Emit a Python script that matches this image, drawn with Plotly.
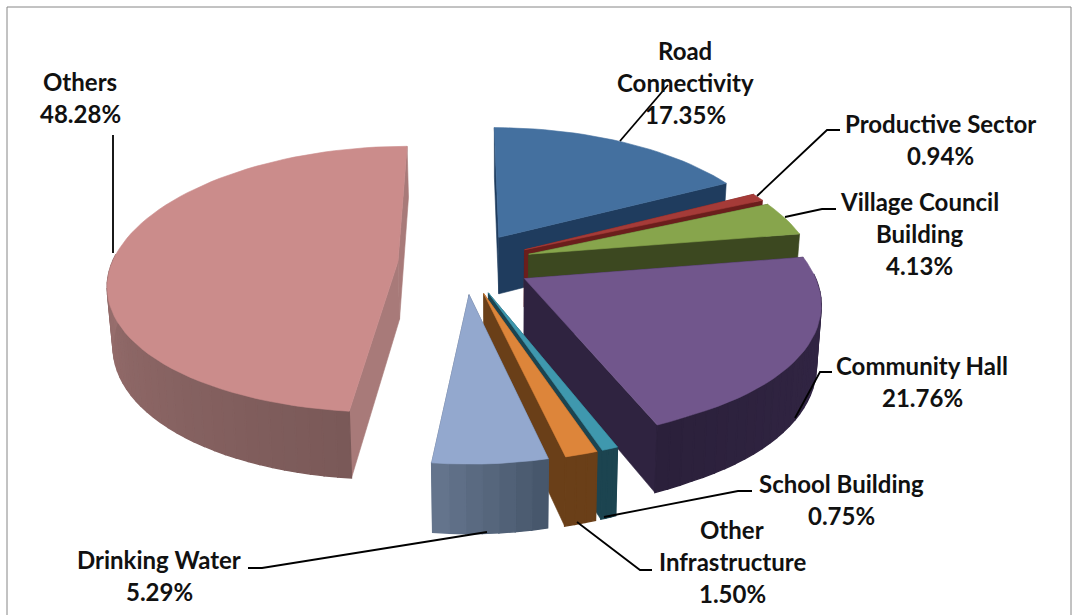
import math
import plotly.graph_objects as go

# ---- data ----
categories = ["Road Connectivity", "Productive Sector", "Village Council Building", "Community Hall",
              "School Building", "Other Infrastructure", "Drinking Water", "Others"]
shares = [17.35, 0.94, 4.13, 21.76, 0.75, 1.50, 5.29, 48.28]

# ---- style ----
top_colors = ["#44709F", "#A53B38", "#87A54C", "#71568C", "#3F98AE", "#DD853A", "#93A8CE", "#CB8C8B"]
wall_colors = ["#1F3C5E", "#6B1E1C", "#3C4820", "#2F2340", "#1C4450", "#6A3F18", "#4F6078", "#A87A79"]
arc_light = ["#2A4A70", "#6B1E1C", "#3C4820", "#352848", "#1C4450", "#6A3F18", "#64748C", "#B88685"]
arc_dark = ["#1F3C5E", "#6B1E1C", "#3C4820", "#2B203B", "#1C4450", "#6A3F18", "#47576C", "#7A5958"]
paint_order = [7, 0, 1, 2, 3, 4, 5, 6]

CX, CY, RX, RY = 465, 263, 286, 131
PX, PY, PULL, DEPTH = 0.157, 0.135, 0.235, 58


def project(u, v, down=False):
    x = CX + RX * u / (1 + PX * v)
    y = CY - RY * v / (1 + PY * v) + 30 * max(0.0, -1 - v)
    if down:
        y += DEPTH / (1 + PY * v)
        x = 500 + (x - 500) * 0.985
    return x, y


def mix(a, b, t):
    ca = [int(a[i:i + 2], 16) for i in (1, 3, 5)]
    cb = [int(b[i:i + 2], 16) for i in (1, 3, 5)]
    return "rgb(%d,%d,%d)" % tuple(round(p + (q - p) * t) for p, q in zip(ca, cb))


fig = go.Figure()


def poly(pts, color, width=0.6):
    xs = [p[0] for p in pts] + [pts[0][0]]
    ys = [p[1] for p in pts] + [pts[0][1]]
    fig.add_trace(go.Scatter(x=xs, y=ys, mode="lines", fill="toself", fillcolor=color,
                             line=dict(color=color, width=width), hoverinfo="skip", showlegend=False))


starts = []
acc = 0.0
for s in shares:
    starts.append(acc)
    acc += s

for i in paint_order:
    t0 = math.radians(starts[i] * 3.6)
    t1 = math.radians((starts[i] + shares[i]) * 3.6)
    mid = (t0 + t1) / 2
    ou, ov = PULL * math.sin(mid), PULL * math.cos(mid)
    n = max(3, int(shares[i] * 1.5))
    angles = [t0 + (t1 - t0) * k / n for k in range(n + 1)]
    pts = [(ou + math.sin(a), ov + math.cos(a)) for a in angles]
    apex = (ou, ov)

    # radial walls
    for rim in (pts[0], pts[-1]):
        poly([project(*apex), project(*rim), project(*rim, True), project(*apex, True)], wall_colors[i])
    # rim wall, in narrow shaded strips
    for k in range(n):
        if math.cos((angles[k] + angles[k + 1]) / 2) > 0.05:
            continue
        frac = k / max(1, n - 1)
        col = mix(arc_light[i], arc_dark[i], 1 - frac if i >= 6 else frac)
        poly([project(*pts[k]), project(*pts[k + 1]), project(*pts[k + 1], True), project(*pts[k], True)], col, 1.4)
    # top face
    poly([project(*apex)] + [project(*p) for p in pts], top_colors[i])

# ---- labels ----
label_lines = [
    (["Road", "Connectivity"], 685, 50),
    (["Productive Sector"], 940, 123),
    (["Village Council", "Building"], 919, 201),
    (["Community Hall"], 922, 365),
    (["School Building"], 841, 483),
    (["Other", "Infrastructure"], 732, 529),
    (["Drinking Water"], 159, 559),
    (["Others"], 80, 81),
]
for share, (lines, lx, ly) in zip(shares, label_lines):
    rows = lines + ["%.2f%%" % share]
    for r, text in enumerate(rows):
        fig.add_annotation(x=lx, y=ly + r * 32, text=text, showarrow=False, xanchor="center", yanchor="middle",
                           font=dict(family="Lato", size=24, color="#111111", weight="bold"))

leaders = [
    [(620, 141), (668, 85)],
    [(757, 196), (827, 130), (840, 130)],
    [(785, 217), (822, 209), (836, 209)],
    [(795, 418), (820, 372), (832, 372)],
    [(604, 517), (738, 491), (752, 491)],
    [(577, 522), (640, 570), (652, 570)],
    [(487, 532), (262, 568), (248, 568)],
    [(113, 253), (113, 135)],
]
for path in leaders:
    fig.add_trace(go.Scatter(x=[p[0] for p in path], y=[p[1] for p in path], mode="lines",
                             line=dict(color="#000000", width=1.8), hoverinfo="skip", showlegend=False))

# frame
fig.add_trace(go.Scatter(x=[7, 7, 1071, 1071], y=[615, 7, 7, 615], mode="lines",
                         line=dict(color="#868686", width=1), hoverinfo="skip", showlegend=False))

fig.update_layout(width=1075, height=615, margin=dict(l=0, r=0, t=0, b=0),
                  paper_bgcolor="white", plot_bgcolor="white",
                  xaxis=dict(range=[0, 1075], visible=False, fixedrange=True),
                  yaxis=dict(range=[615, 0], visible=False, fixedrange=True))
fig.write_html("out.html", config={"displayModeBar": False},
               post_script="document.body.style.margin='0';document.body.style.overflow='hidden';")
